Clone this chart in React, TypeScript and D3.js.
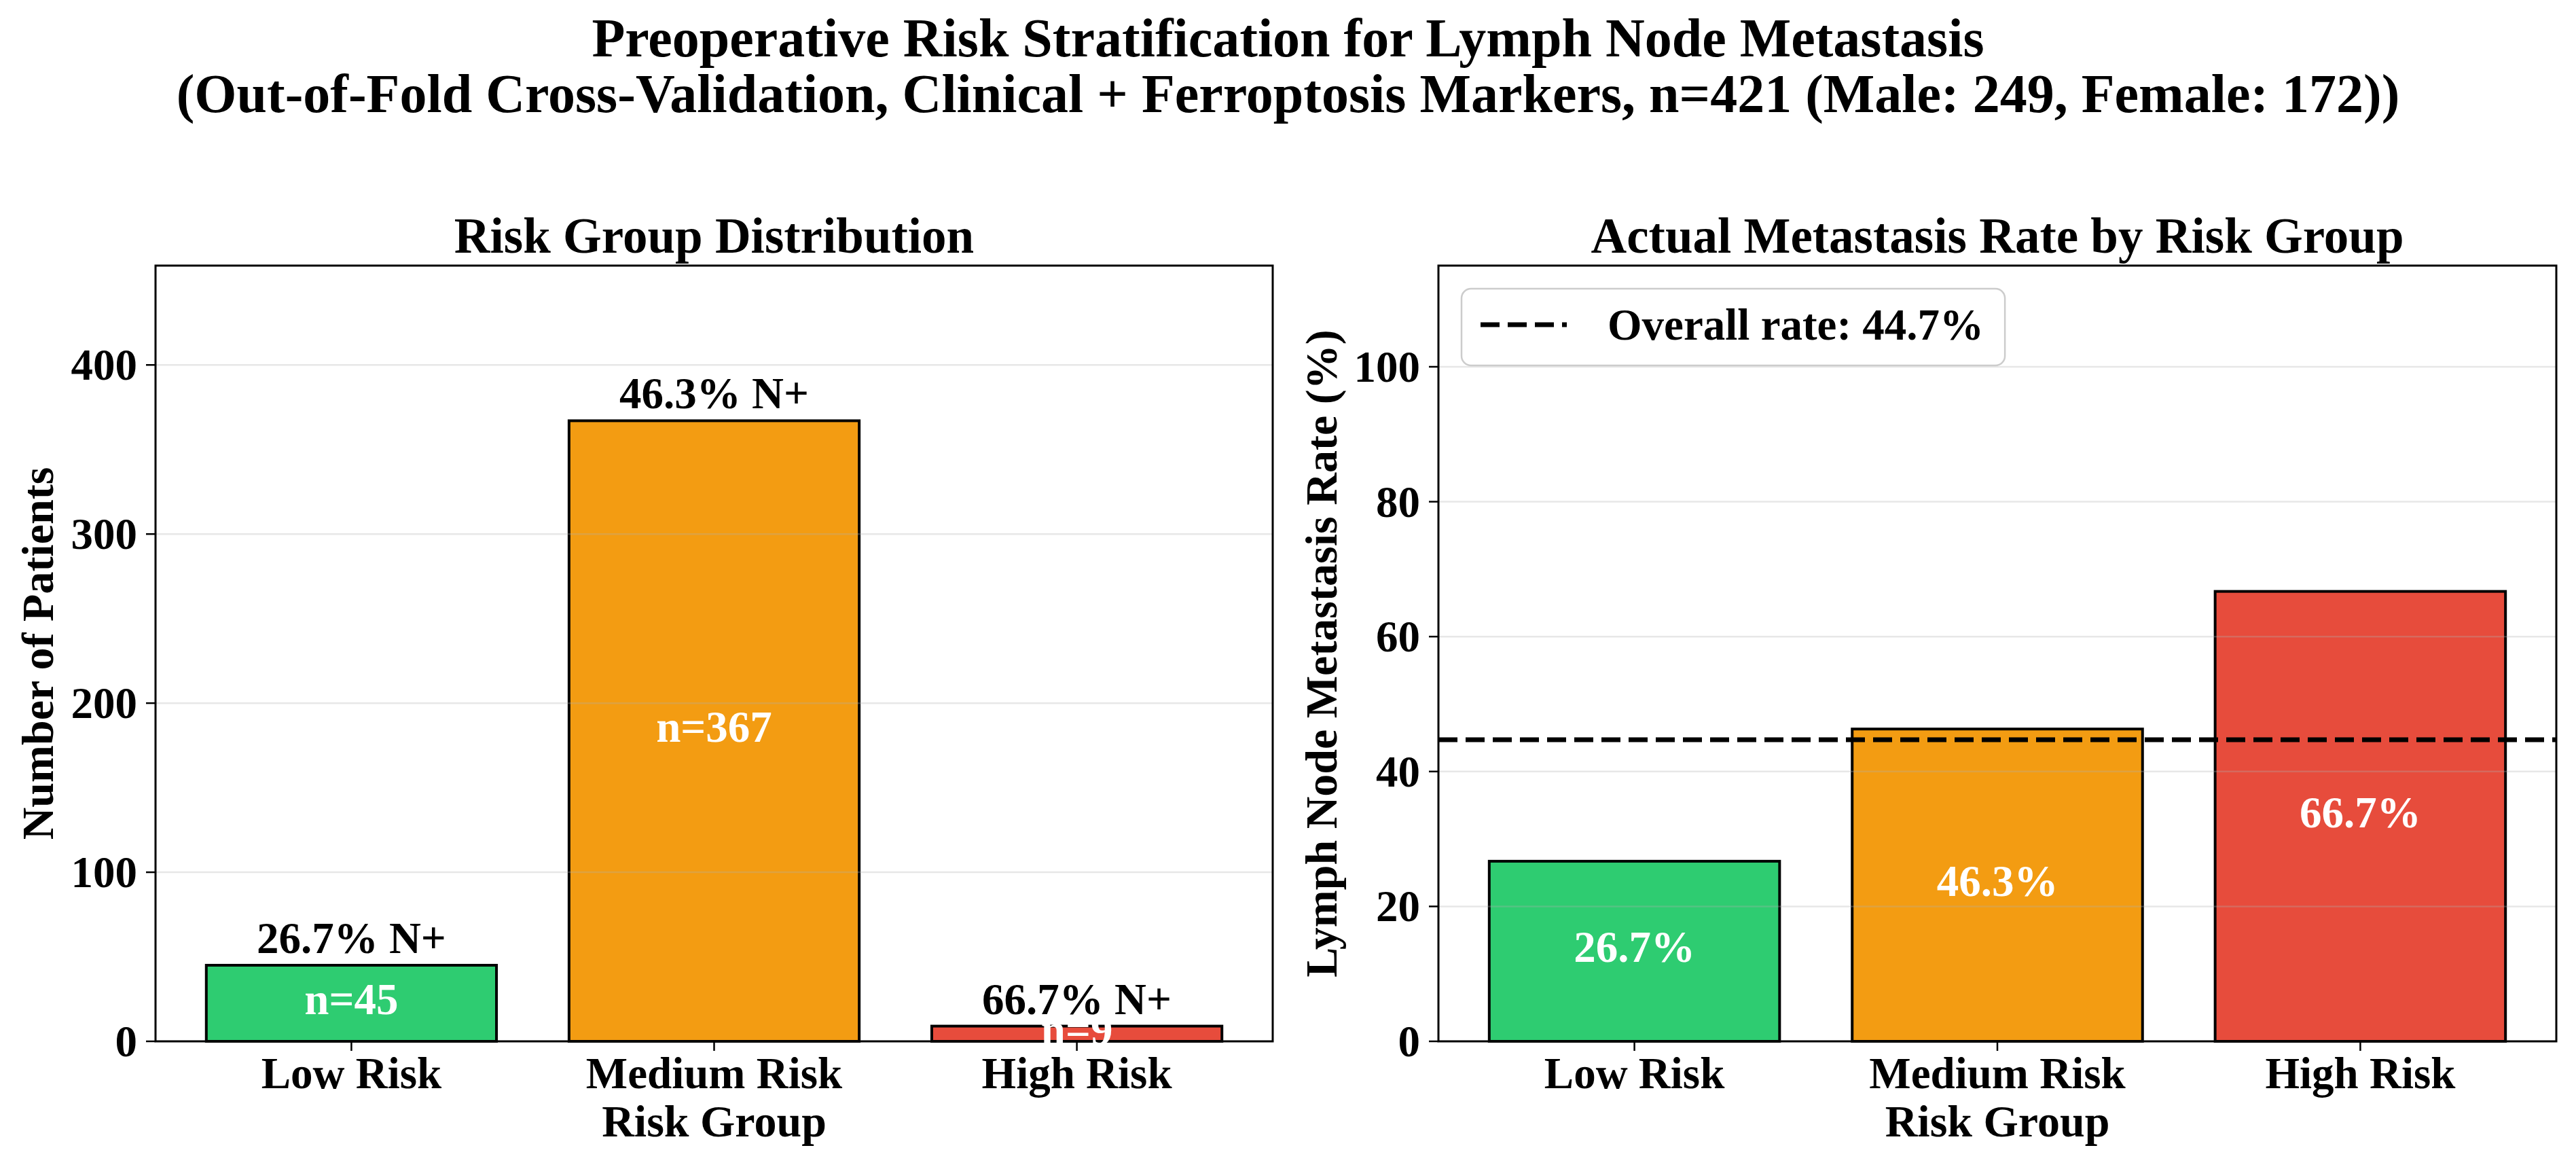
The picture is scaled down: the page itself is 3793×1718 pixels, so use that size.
import { useEffect, useRef } from 'react';
import * as d3 from 'd3';

const riskGroups = ['Low Risk', 'Medium Risk', 'High Risk'];
const patientCounts = [45, 367, 9];
const metastasisRates = [26.7, 46.3, 66.7];
const overallRate = 44.7;
const barColors = ['#2ecc71', '#f39c12', '#e74c3c'];
const countTicks = [0, 100, 200, 300, 400];
const rateTicks = [0, 20, 40, 60, 80, 100];

const titleLines = [
    'Preoperative Risk Stratification for Lymph Node Metastasis',
    '(Out-of-Fold Cross-Validation, Clinical + Ferroptosis Markers, n=421 (Male: 249, Female: 172))',
];

const WIDTH = 3793;
const HEIGHT = 1718;
const FONT = '"Liberation Serif", "Times New Roman", serif';

interface Panel {
    left: number;
    right: number;
    title: string;
    yLabel: string;
    yLabelX: number;
    values: number[];
    yMax: number;
    ticks: number[];
    topLabels: string[] | null;
    innerLabels: string[];
}

export default function App() {
    const svgRef = useRef<SVGSVGElement>(null);

    useEffect(() => {
        if (!svgRef.current) return;
        const svg = d3.select(svgRef.current);
        svg.selectAll('*').remove();

        const top = 391;
        const bottom = 1533;

        svg.append('rect').attr('width', WIDTH).attr('height', HEIGHT).attr('fill', '#fff');

        // Figure title
        svg.append('g')
            .selectAll('text')
            .data(titleLines)
            .enter()
            .append('text')
            .attr('x', WIDTH / 2)
            .attr('y', (_, i) => 83 + i * 82)
            .attr('text-anchor', 'middle')
            .attr('font-family', FONT)
            .attr('font-weight', 'bold')
            .attr('font-size', 80)
            .text((d) => d);

        const panels: Panel[] = [
            {
                left: 229,
                right: 1874,
                title: 'Risk Group Distribution',
                yLabel: 'Number of Patients',
                yLabelX: 78,
                values: patientCounts,
                yMax: d3.max(patientCounts)! * 1.25,
                ticks: countTicks,
                topLabels: metastasisRates.map((r) => `${r.toFixed(1)}% N+`),
                innerLabels: patientCounts.map((n) => `n=${n}`),
            },
            {
                left: 2118,
                right: 3764,
                title: 'Actual Metastasis Rate by Risk Group',
                yLabel: 'Lymph Node Metastasis Rate (%)',
                yLabelX: 1968,
                values: metastasisRates,
                yMax: 115,
                ticks: rateTicks,
                topLabels: null,
                innerLabels: metastasisRates.map((r) => `${r.toFixed(1)}%`),
            },
        ];

        panels.forEach((p, pi) => {
            const x = d3
                .scaleBand<string>()
                .domain(riskGroups)
                .range([p.left, p.right])
                .paddingInner(0.2)
                .paddingOuter(0.14);
            const y = d3.scaleLinear().domain([0, p.yMax]).range([bottom, top]);
            const g = svg.append('g');

            // Bars
            g.selectAll('.bar')
                .data(p.values)
                .enter()
                .append('rect')
                .attr('x', (_, i) => x(riskGroups[i])!)
                .attr('y', (d) => y(d))
                .attr('width', x.bandwidth())
                .attr('height', (d) => bottom - y(d))
                .attr('fill', (_, i) => barColors[i])
                .attr('stroke', '#000')
                .attr('stroke-width', 4);

            // Grid lines
            g.selectAll('.grid')
                .data(p.ticks)
                .enter()
                .append('line')
                .attr('x1', p.left)
                .attr('x2', p.right)
                .attr('y1', (d) => y(d))
                .attr('y2', (d) => y(d))
                .attr('stroke', '#b0b0b0')
                .attr('stroke-opacity', 0.3)
                .attr('stroke-width', 2.5);

            // Overall rate line
            if (pi === 1) {
                g.append('line')
                    .attr('x1', p.left)
                    .attr('x2', p.right)
                    .attr('y1', y(overallRate))
                    .attr('y2', y(overallRate))
                    .attr('stroke', '#000')
                    .attr('stroke-width', 7)
                    .attr('stroke-dasharray', '28 12');
            }

            // Frame
            g.append('rect')
                .attr('x', p.left)
                .attr('y', top)
                .attr('width', p.right - p.left)
                .attr('height', bottom - top)
                .attr('fill', 'none')
                .attr('stroke', '#000')
                .attr('stroke-width', 3);

            // Y ticks
            const yt = g.selectAll('.ytick').data(p.ticks).enter().append('g');
            yt.append('line')
                .attr('x1', p.left - 14)
                .attr('x2', p.left)
                .attr('y1', (d) => y(d))
                .attr('y2', (d) => y(d))
                .attr('stroke', '#000')
                .attr('stroke-width', 2.5);
            yt.append('text')
                .attr('x', p.left - 27)
                .attr('y', (d) => y(d) + 22)
                .attr('text-anchor', 'end')
                .attr('font-family', FONT)
                .attr('font-weight', 'bold')
                .attr('font-size', 65)
                .text((d) => d);

            // X ticks
            const xt = g.selectAll('.xtick').data(riskGroups).enter().append('g');
            xt.append('line')
                .attr('x1', (d) => x(d)! + x.bandwidth() / 2)
                .attr('x2', (d) => x(d)! + x.bandwidth() / 2)
                .attr('y1', bottom)
                .attr('y2', bottom + 14)
                .attr('stroke', '#000')
                .attr('stroke-width', 2.5);
            xt.append('text')
                .attr('x', (d) => x(d)! + x.bandwidth() / 2)
                .attr('y', 1602)
                .attr('text-anchor', 'middle')
                .attr('font-family', FONT)
                .attr('font-weight', 'bold')
                .attr('font-size', 65)
                .text((d) => d);

            // Axis labels and title
            g.append('text')
                .attr('x', (p.left + p.right) / 2)
                .attr('y', 1673)
                .attr('text-anchor', 'middle')
                .attr('font-family', FONT)
                .attr('font-weight', 'bold')
                .attr('font-size', 66)
                .text('Risk Group');
            g.append('text')
                .attr('transform', `translate(${p.yLabelX},${(top + bottom) / 2}) rotate(-90)`)
                .attr('text-anchor', 'middle')
                .attr('font-family', FONT)
                .attr('font-weight', 'bold')
                .attr('font-size', 66)
                .text(p.yLabel);
            g.append('text')
                .attr('x', (p.left + p.right) / 2)
                .attr('y', 372)
                .attr('text-anchor', 'middle')
                .attr('font-family', FONT)
                .attr('font-weight', 'bold')
                .attr('font-size', 73)
                .text(p.title);

            // Value labels
            if (p.topLabels) {
                g.selectAll('.toplabel')
                    .data(p.values)
                    .enter()
                    .append('text')
                    .attr('x', (_, i) => x(riskGroups[i])! + x.bandwidth() / 2)
                    .attr('y', (d) => y(d) - 18)
                    .attr('text-anchor', 'middle')
                    .attr('font-family', FONT)
                    .attr('font-weight', 'bold')
                    .attr('font-size', 65)
                    .text((_, i) => p.topLabels![i]);
            }
            g.selectAll('.innerlabel')
                .data(p.values)
                .enter()
                .append('text')
                .attr('x', (_, i) => x(riskGroups[i])! + x.bandwidth() / 2)
                .attr('y', (d) => y(d / 2) + 16)
                .attr('text-anchor', 'middle')
                .attr('font-family', FONT)
                .attr('font-weight', 'bold')
                .attr('font-size', 65)
                .attr('fill', '#fff')
                .text((_, i) => p.innerLabels[i]);

            // Legend
            if (pi === 1) {
                const legend = g.append('g');
                const box = legend
                    .append('rect')
                    .attr('x', 2152)
                    .attr('y', 425)
                    .attr('height', 113)
                    .attr('rx', 14)
                    .attr('fill', '#fff')
                    .attr('fill-opacity', 0.8)
                    .attr('stroke', '#cccccc')
                    .attr('stroke-width', 2.5);
                legend
                    .append('line')
                    .attr('x1', 2180)
                    .attr('x2', 2307)
                    .attr('y1', 478)
                    .attr('y2', 478)
                    .attr('stroke', '#000')
                    .attr('stroke-width', 7)
                    .attr('stroke-dasharray', '28 12');
                const label = legend
                    .append('text')
                    .attr('x', 2367)
                    .attr('y', 500)
                    .attr('font-family', FONT)
                    .attr('font-weight', 'bold')
                    .attr('font-size', 65)
                    .text(`Overall rate: ${overallRate.toFixed(1)}%`);
                const len = (label.node() as SVGTextElement).getComputedTextLength();
                box.attr('width', 2367 + len + 31 - 2152);
            }
        });
    }, []);

    return (
        <div style={{ position: 'fixed', left: 0, top: 0 }}>
            <svg ref={svgRef} width={WIDTH} height={HEIGHT} style={{ display: 'block' }} />
        </div>
    );
}
